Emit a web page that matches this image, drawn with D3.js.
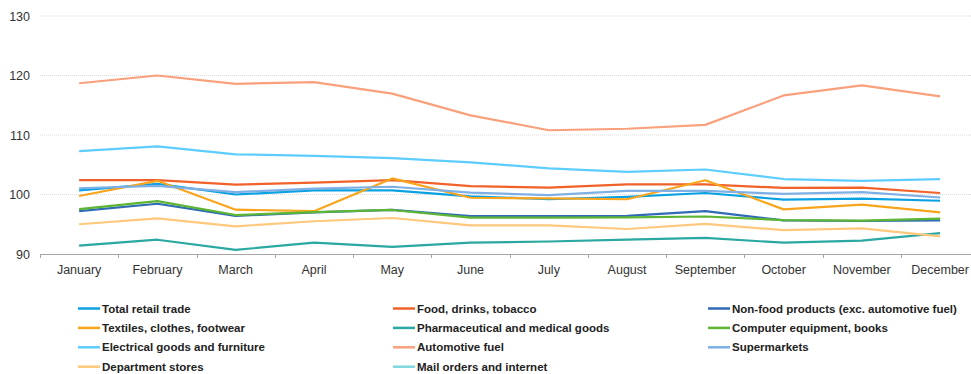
<!DOCTYPE html>
<html>
<head>
<meta charset="utf-8">
<script src="https://cdn.jsdelivr.net/npm/d3@7"></script>
<style>
  html, body { margin: 0; padding: 0; background: #fff; }
  svg { display: block; font-family: "Liberation Sans", Arial, sans-serif; }
</style>
</head>
<body>
<svg id="chart" width="971" height="374"></svg>
<script>
// Monthly retail trade indices by sector
const months = ["January", "February", "March", "April", "May", "June",
  "July", "August", "September", "October", "November", "December"];
const yTicks = [90, 100, 110, 120, 130];

const seriesNames = [
  "Total retail trade", "Food, drinks, tobacco", "Non-food products (exc. automotive fuel)",
  "Textiles, clothes, footwear", "Pharmaceutical and medical goods", "Computer equipment, books",
  "Electrical goods and furniture", "Automotive fuel", "Supermarkets",
  "Department stores", "Mail orders and internet"
];
const seriesColors = [
  "#0aa1e2", "#f0622a", "#2f6cb5",
  "#f8a51d", "#2ba8a1", "#5db534",
  "#5ccdfc", "#f9a07c", "#7eb0e5",
  "#ffc87c", "#80d9de"
];

const totalRetail   = [100.7, 101.8, 100.0, 100.7, 100.7, 99.7, 99.2, 99.6, 100.25, 99.15, 99.3, 98.95];
const foodDrinks    = [102.4, 102.4, 101.65, 102.0, 102.4, 101.4, 101.15, 101.7, 101.7, 101.1, 101.15, 100.25];
const nonFood       = [97.2, 98.45, 96.4, 97.0, 97.4, 96.35, 96.35, 96.4, 97.2, 95.65, 95.55, 95.65];
const textiles      = [99.75, 102.3, 97.45, 97.2, 102.7, 99.45, 99.35, 99.2, 102.4, 97.5, 98.3, 97.0];
const pharma        = [91.4, 92.4, 90.7, 91.9, 91.2, 91.9, 92.1, 92.4, 92.7, 91.9, 92.25, 93.5];
const computer      = [97.55, 98.9, 96.55, 97.05, 97.4, 96.1, 96.1, 96.15, 96.3, 95.7, 95.6, 95.95];
const electrical    = [107.3, 108.1, 106.75, 106.5, 106.1, 105.4, 104.4, 103.8, 104.2, 102.6, 102.3, 102.6];
const automotive    = [118.7, 120.0, 118.6, 118.9, 116.95, 113.3, 110.8, 111.05, 111.7, 116.65, 118.35, 116.5];
const supermarkets  = [101.05, 101.45, 100.4, 101.0, 101.3, 100.3, 99.9, 100.6, 100.6, 100.1, 100.4, 99.5];
const deptStores    = [95.0, 96.0, 94.65, 95.5, 96.05, 94.8, 94.8, 94.2, 95.05, 94.0, 94.3, 92.95];
const mailOrders    = [null, null, null, null, null, null, null, null, null, null, null, null];

const seriesValues = [
  totalRetail, foodDrinks, nonFood,
  textiles, pharma, computer,
  electrical, automotive, supermarkets,
  deptStores, mailOrders
];

const series = seriesNames.map((name, i) => ({
  name, color: seriesColors[i], values: seriesValues[i]
}));

const svg = d3.select("#chart");
const plot = { left: 40, right: 979.3, top: 16, bottom: 254 };

const x = d3.scaleBand().domain(months).range([plot.left, plot.right]).padding(0);
const y = d3.scaleLinear().domain([90, 130]).range([plot.bottom, plot.top]);

// horizontal gridlines
svg.append("g")
  .selectAll("line")
  .data(yTicks.filter(t => t !== 90))
  .join("line")
  .attr("x1", plot.left).attr("x2", 971)
  .attr("y1", d => y(d)).attr("y2", d => y(d))
  .attr("stroke", "#d9d9d9")
  .attr("stroke-width", 1)
  .attr("stroke-dasharray", "1,1");

// y axis labels
const yAxis = d3.axisLeft(y).tickValues(yTicks).tickSize(0).tickPadding(10).tickFormat(d3.format("d"));
svg.append("g")
  .attr("transform", `translate(${plot.left},0)`)
  .call(yAxis)
  .call(g => g.select(".domain").remove())
  .call(g => g.selectAll("text")
    .attr("font-size", 12.5).attr("fill", "#333")
    .attr("font-family", "'Liberation Sans', Arial, sans-serif"));

// x axis: baseline, tick marks at band edges, labels centred in bands
const xAxisG = svg.append("g").attr("transform", `translate(0,${plot.bottom})`);
xAxisG.append("line")
  .attr("x1", plot.left).attr("x2", 971)
  .attr("y1", 0.5).attr("y2", 0.5)
  .attr("stroke", "#a6a6a6").attr("stroke-width", 1);
xAxisG.selectAll("line.tick")
  .data(months)
  .join("line")
  .attr("class", "tick")
  .attr("x1", d => Math.round(x(d)) + 0.5).attr("x2", d => Math.round(x(d)) + 0.5)
  .attr("y1", 0).attr("y2", 4)
  .attr("stroke", "#a6a6a6");
xAxisG.selectAll("text")
  .data(months)
  .join("text")
  .attr("x", d => x(d) + x.bandwidth() / 2)
  .attr("y", 20)
  .attr("text-anchor", "middle")
  .attr("font-size", 12.5)
  .attr("fill", "#333")
  .text(d => d);

// series lines
const line = d3.line()
  .defined(d => d.value != null)
  .x(d => x(d.month) + x.bandwidth() / 2)
  .y(d => y(d.value));

svg.append("g")
  .selectAll("path")
  .data(series)
  .join("path")
  .attr("fill", "none")
  .attr("stroke", d => d.color)
  .attr("stroke-width", 2.2)
  .attr("stroke-linejoin", "round")
  .attr("d", d => line(d.values.map((v, i) => ({ month: months[i], value: v }))));

// legend: three columns, row-major
const legendCols = [78, 393, 708];
const legendRow0 = 308.5, legendRowStep = 19.4;
const legend = svg.append("g")
  .selectAll("g")
  .data(series)
  .join("g")
  .attr("transform", (d, i) => `translate(${legendCols[i % 3]},${legendRow0 + Math.floor(i / 3) * legendRowStep})`);
legend.append("line")
  .attr("x1", 0).attr("x2", 22)
  .attr("y1", 0).attr("y2", 0)
  .attr("stroke", d => d.color)
  .attr("stroke-width", 2.5);
legend.append("text")
  .attr("x", 24)
  .attr("y", 0)
  .attr("dy", "0.35em")
  .attr("font-size", 11.5)
  .attr("font-weight", "bold")
  .attr("fill", "#222")
  .text(d => d.name);
</script>
</body>
</html>
